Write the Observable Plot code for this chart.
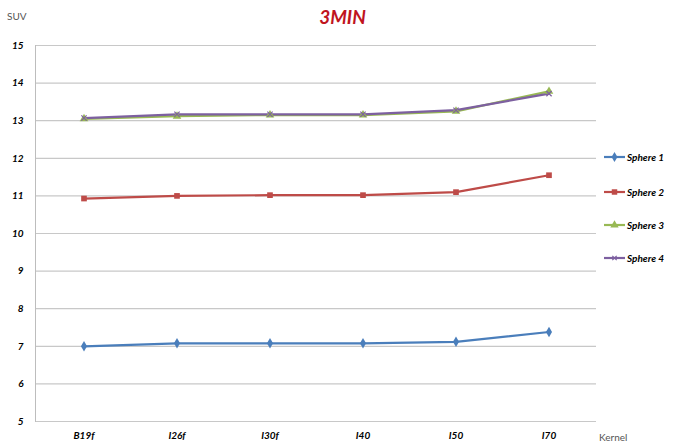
<!DOCTYPE html>
<html>
<head>
<meta charset="utf-8">
<script src="https://cdn.jsdelivr.net/npm/d3@7"></script>
<script src="https://cdn.jsdelivr.net/npm/@observablehq/plot@0.6"></script>
<style>
  html, body { margin: 0; padding: 0; background: #fff; }
  #wrap { position: relative; width: 685px; height: 446px; font-family: Lato, "Open Sans", sans-serif; }
  #title { position: absolute; left: 0; width: 685px; top: 5px; text-align: center; color: #c0141e; font-weight: bold; font-style: italic; font-size: 19px; }
  #ylab { position: absolute; left: 7px; top: 10px; font-size: 10px; color: #555; }
  #xlab { position: absolute; left: 599px; top: 431px; font-size: 10px; color: #555; }
  #legend { position: absolute; left: 602px; top: 148px; }
</style>
</head>
<body>
<div id="wrap">
  <div id="chart"></div>
  <div id="title">3MIN</div>
  <div id="ylab">SUV</div>
  <div id="xlab">Kernel</div>
  <div id="legend"></div>
</div>
<script>
const kernels = ["B19f", "I26f", "I30f", "I40", "I50", "I70"];
const seriesNames = ["Sphere 1", "Sphere 2", "Sphere 3", "Sphere 4"];
const sphere1 = [7.00, 7.08, 7.08, 7.08, 7.12, 7.38];
const sphere2 = [10.93, 11.00, 11.02, 11.02, 11.10, 11.55];
const sphere3 = [13.05, 13.12, 13.15, 13.15, 13.25, 13.78];
const sphere4 = [13.07, 13.17, 13.17, 13.17, 13.28, 13.72];
const yTicks = [5, 6, 7, 8, 9, 10, 11, 12, 13, 14, 15];

const colors = ["#4a7ebb", "#be4b48", "#98b954", "#7d60a0"];
const symbols = ["diamond", "square", "triangle", "times"];

const allValues = [sphere1, sphere2, sphere3, sphere4];
const rows = [];
seriesNames.forEach((s, i) => {
  kernels.forEach((k, j) => rows.push({series: s, kernel: k, value: allValues[i][j]}));
});

const font = "Lato, 'Open Sans', sans-serif";

const plot = Plot.plot({
  width: 685,
  height: 446,
  marginTop: 45,
  marginBottom: 25,
  marginLeft: 35,
  marginRight: 89,
  style: {fontFamily: font, fontSize: "10px", color: "#000", background: "#fff"},
  x: {type: "band", domain: kernels, padding: 0, label: null},
  y: {domain: [5, 15], ticks: yTicks, label: null},
  color: {domain: seriesNames, range: colors},
  symbol: {domain: seriesNames, range: symbols},
  marks: [
    Plot.gridY(yTicks, {stroke: "#c8c8c8", strokeOpacity: 1, strokeWidth: 1.2}),
    Plot.axisY({ticks: yTicks, tickSize: 0, tickPadding: 12, fontWeight: "bold", fontStyle: "italic", fontSize: 10}),
    Plot.axisX({tickSize: 0, tickPadding: 10, fontWeight: "bold", fontStyle: "italic", fontSize: 10}),
    Plot.frame({anchor: "left", stroke: "#bdbdbd"}),
    Plot.line(rows, {x: "kernel", y: "value", z: "series", stroke: "series", strokeWidth: 2.2}),
    Plot.dot(rows.filter(d => d.series !== "Sphere 4"), {x: "kernel", y: "value", fill: "series", symbol: "series", r: 3.2, stroke: "none"}),
    Plot.dot(rows.filter(d => d.series === "Sphere 4"), {x: "kernel", y: "value", stroke: "series", symbol: "series", r: 2.5, strokeWidth: 1.2})
  ]
});
document.getElementById("chart").appendChild(plot);

// Legend entries: short line + marker, then series name
const leg = d3.select("#legend").append("svg").attr("width", 83).attr("height", 120)
  .style("font-family", font);
const ys = [9, 44, 77, 110];
seriesNames.forEach((s, i) => {
  const g = leg.append("g").attr("transform", `translate(0,${ys[i]})`);
  g.append("line").attr("x1", 2).attr("x2", 23).attr("y1", 0).attr("y2", 0)
    .attr("stroke", colors[i]).attr("stroke-width", 2.2);
  const sym = d3.symbol().type(
    i === 0 ? d3.symbolDiamond : i === 1 ? d3.symbolSquare : i === 2 ? d3.symbolTriangle : d3.symbolTimes
  ).size(i === 3 ? 14 : 30);
  const p = g.append("path").attr("d", sym()).attr("transform", "translate(12.5,0)");
  if (i === 3) p.attr("fill", "none").attr("stroke", colors[i]).attr("stroke-width", 1.2);
  else p.attr("fill", colors[i]);
  g.append("text").attr("x", 25).attr("y", 3.5).attr("font-size", 10)
    .attr("font-weight", "bold").attr("font-style", "italic").attr("fill", "#000").text(s);
});
</script>
</body>
</html>
